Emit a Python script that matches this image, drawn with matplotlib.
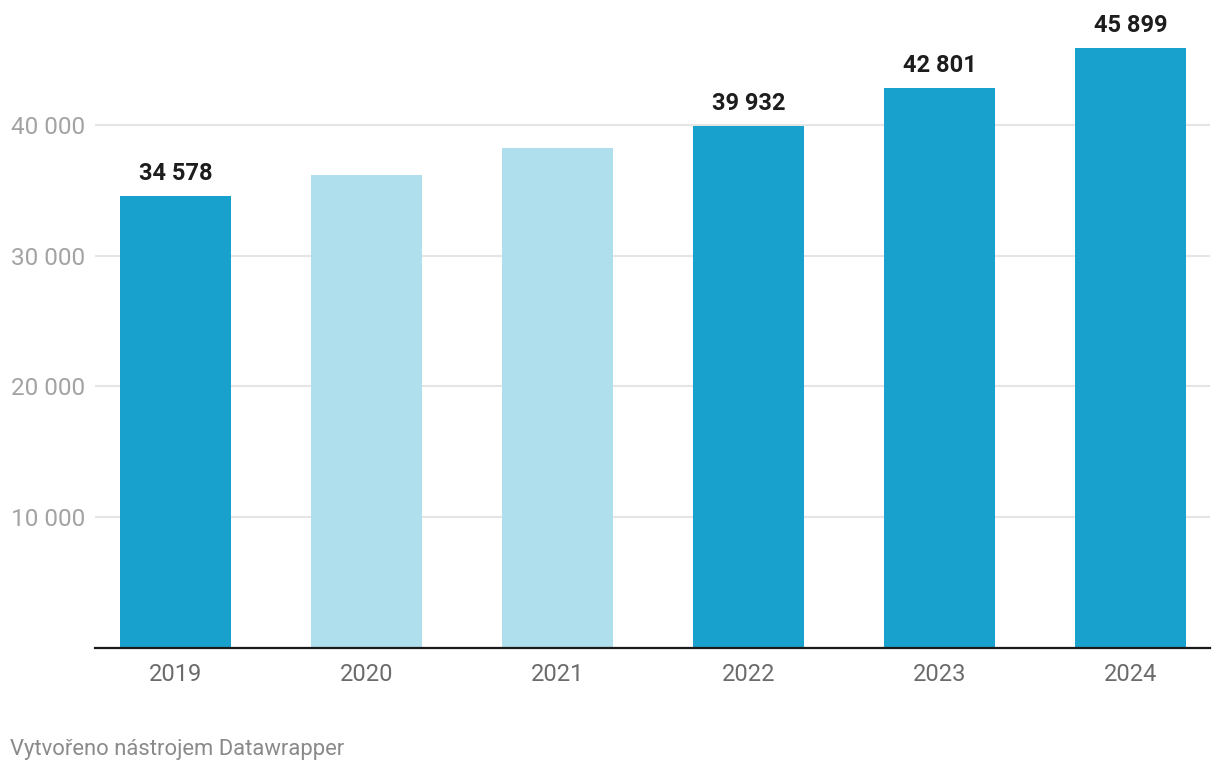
import matplotlib
matplotlib.use("Agg")
import matplotlib.pyplot as plt
from matplotlib.ticker import FuncFormatter

plt.rcParams['font.family'] = ['Roboto', 'DejaVu Sans']

years = ["2019", "2020", "2021", "2022", "2023", "2024"]
values = [34578, 36176, 38240, 39932, 42801, 45899]
highlight = [True, False, False, True, True, True]
labels = ["34 578", "", "", "39 932", "42 801", "45 899"]
yticks = [10000, 20000, 30000, 40000]

DARK = "#18a1cd"
LIGHT = "#afdeed"

W, H = 1220, 770
fig = plt.figure(figsize=(W / 100, H / 100), dpi=100)
ymax = 46000
px_per_unit = 130.75 / 10000
ax_h = ymax * px_per_unit
ax = fig.add_axes([95 / W, (H - 648) / H, (1210 - 95) / W, ax_h / H])

x = list(range(len(years)))
colors = [DARK if h else LIGHT for h in highlight]
ax.bar(x, values, width=0.58, color=colors, zorder=2)

ax.set_xlim(-0.4215, 5.416)
ax.set_ylim(0, ymax)

ax.set_yticks(yticks)
ax.yaxis.set_major_formatter(FuncFormatter(lambda v, p: f"{int(v):,}".replace(",", " ")))
ax.grid(axis="y", color="#e5e5e5", linewidth=1.5, zorder=0)
ax.tick_params(axis="y", length=0, pad=7, labelsize=17.5, labelcolor="#a3a3a3")
ax.set_xticks(x)
ax.set_xticklabels(years)
ax.tick_params(axis="x", length=0, pad=11, labelsize=17, labelcolor="#6b6b6b")

for s in ["top", "right", "left"]:
    ax.spines[s].set_visible(False)
ax.spines["bottom"].set_color("#1a1a1a")
ax.spines["bottom"].set_linewidth(1.6)
ax.spines["bottom"].set_zorder(3)

for xi, v, lab in zip(x, values, labels):
    if lab:
        ax.annotate(lab, (xi, v), xytext=(0, 11.5), textcoords="offset points",
                    ha="center", va="baseline", fontsize=17, fontweight="bold",
                    color="#1d1d1d")

fig.text(10 / W, 1 - 755 / H, "Vytvořeno nástrojem Datawrapper", fontsize=15.8,
         color="#8a8a8a", ha="left", va="baseline")

fig.savefig("out.png", dpi=100)
